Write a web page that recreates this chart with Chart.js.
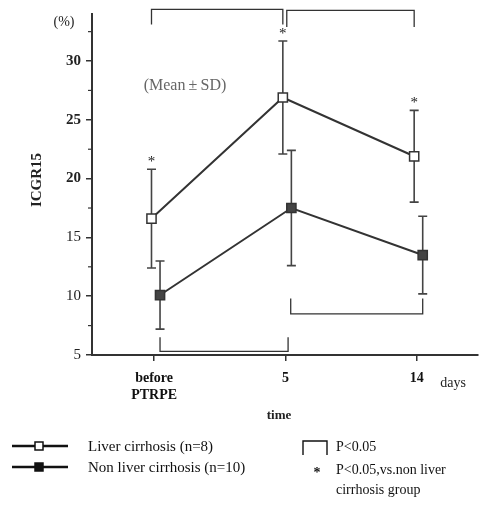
<!DOCTYPE html>
<html>
<head>
<meta charset="utf-8">
<script src="https://cdn.jsdelivr.net/npm/chart.js@4/dist/chart.umd.min.js"></script>
<style>
    html, body { margin: 0; padding: 0; background: #fff; }
    #wrap { width: 486px; height: 507px; }
</style>
</head>
<body>
<div id="wrap"><canvas id="icgr-chart"></canvas></div>
<script>
/*** 資料 ***/
const timeLabels = [['before', 'PTRPE'], '5', '14'];
const yTicks = [5, 10, 15, 20, 25, 30];
const yMinorTicks = [7.5, 12.5, 17.5, 22.5, 27.5, 32.5];
const cirrhosisMean = [16.6, 26.9, 21.9];
const cirrhosisSD = [4.2, 4.8, 3.9];
const nonCirrhosisMean = [10.1, 17.5, 13.5];
const nonCirrhosisSD = [2.9, 4.9, 3.3];
// [from, to, bar value, tip value]
const topBrackets = [[0, 1, 34.4, 33.1], [1, 2, 34.3, 32.9]];
const lowBrackets = [[0, 1, 5.3, 6.5], [1, 2, 8.5, 9.8]];

const INK = '#333';
const SERIF = '"Liberation Serif", "DejaVu Serif", serif';
const dodgeOpen = -0.02;
const dodgeFilled = 0.045;

const toPoints = (arr, dx) => arr.map((v, i) => ({ x: i + dx, y: v }));

/*** 誤差線、括號、圖例 ***/
const decorations = {
    id: 'decorations',
    beforeDatasetsDraw(chart) {
        const { ctx, scales: { x, y } } = chart;
        ctx.save();
        ctx.strokeStyle = '#444';
        ctx.lineWidth = 1.6;
        const bars = [[cirrhosisMean, cirrhosisSD, dodgeOpen], [nonCirrhosisMean, nonCirrhosisSD, dodgeFilled]];
        bars.forEach(([mean, sd, dx]) => {
            mean.forEach((m, i) => {
                const px = x.getPixelForValue(i + dx);
                const top = y.getPixelForValue(m + sd[i]);
                const bot = y.getPixelForValue(m - sd[i]);
                ctx.beginPath();
                ctx.moveTo(px, top); ctx.lineTo(px, bot);
                ctx.moveTo(px - 4.5, top); ctx.lineTo(px + 4.5, top);
                ctx.moveTo(px - 4.5, bot); ctx.lineTo(px + 4.5, bot);
                ctx.stroke();
            });
        });
        ctx.restore();
    },
    afterDraw(chart) {
        const { ctx, scales: { x, y } } = chart;
        ctx.save();
        ctx.strokeStyle = INK;
        ctx.fillStyle = '#222';

        // minor ticks
        ctx.lineWidth = 1.2;
        yMinorTicks.forEach(v => {
            const py = y.getPixelForValue(v);
            ctx.beginPath();
            ctx.moveTo(x.left - 4, py); ctx.lineTo(x.left, py);
            ctx.stroke();
        });

        // brackets
        ctx.lineWidth = 1.3;
        topBrackets.forEach(([a, b, bar, tip], k) => {
            const x1 = x.getPixelForValue(a + (k === 0 ? dodgeOpen : 0.01));
            const x2 = x.getPixelForValue(b + dodgeOpen);
            ctx.beginPath();
            ctx.moveTo(x1, y.getPixelForValue(tip));
            ctx.lineTo(x1, y.getPixelForValue(bar));
            ctx.lineTo(x2, y.getPixelForValue(bar));
            ctx.lineTo(x2, y.getPixelForValue(tip));
            ctx.stroke();
        });
        lowBrackets.forEach(([a, b, bar, tip], k) => {
            const x1 = x.getPixelForValue(a + (k === 0 ? dodgeFilled : 0.04));
            const x2 = x.getPixelForValue(b + (k === 0 ? 0.02 : dodgeFilled));
            ctx.beginPath();
            ctx.moveTo(x1, y.getPixelForValue(tip));
            ctx.lineTo(x1, y.getPixelForValue(bar));
            ctx.lineTo(x2, y.getPixelForValue(bar));
            ctx.lineTo(x2, y.getPixelForValue(tip));
            ctx.stroke();
        });

        // asterisks above liver cirrhosis error bars
        ctx.font = '15px ' + SERIF;
        ctx.textAlign = 'center';
        ctx.textBaseline = 'middle';
        cirrhosisMean.forEach((m, i) => {
            const px = x.getPixelForValue(i + dodgeOpen);
            const py = y.getPixelForValue(m + cirrhosisSD[i]);
            ctx.fillText('*', px, py - 7);
        });

        // texts
        ctx.font = '14px ' + SERIF;
        ctx.fillText('(%)', 64, 22);
        ctx.fillStyle = '#666';
        ctx.font = '16px ' + SERIF;
        ctx.fillText('(Mean\u2009\u00B1\u2009SD)', 185, 86);
        ctx.fillStyle = '#222';
        ctx.font = '14px ' + SERIF;
        ctx.fillText('days', 453, 383);
        ctx.font = 'bold 13px ' + SERIF;
        ctx.fillText('time', 279, 416);

        ctx.save();
        ctx.translate(37, 180);
        ctx.rotate(-Math.PI / 2);
        ctx.font = 'bold 15px ' + SERIF;
        ctx.fillText('ICGR15', 0, 0);
        ctx.restore();

        // legend
        ctx.lineWidth = 2.4;
        ctx.strokeStyle = '#111';
        [[446, false, 'Liver cirrhosis (n=8)'], [467, true, 'Non liver cirrhosis (n=10)']].forEach(([ly, filled, text]) => {
            ctx.beginPath();
            ctx.moveTo(12, ly); ctx.lineTo(68, ly);
            ctx.stroke();
            ctx.fillStyle = filled ? '#111' : '#fff';
            ctx.fillRect(35, ly - 4, 8, 8);
            ctx.lineWidth = 1.5;
            ctx.strokeRect(35, ly - 4, 8, 8);
            ctx.lineWidth = 2.4;
            ctx.fillStyle = '#111';
            ctx.font = '15px ' + SERIF;
            ctx.textAlign = 'left';
            ctx.fillText(text, 88, ly + 1);
        });

        ctx.lineWidth = 1.4;
        ctx.beginPath();
        ctx.moveTo(303, 455); ctx.lineTo(303, 441); ctx.lineTo(327, 441); ctx.lineTo(327, 455);
        ctx.stroke();
        ctx.font = '14px ' + SERIF;
        ctx.fillText('P<0.05', 336, 447);
        ctx.fillText('P<0.05,vs.non liver', 336, 470);
        ctx.fillText('cirrhosis group', 336, 490);
        ctx.textAlign = 'center';
        ctx.font = 'bold 14px ' + SERIF;
        ctx.fillText('*', 317, 473);
        ctx.restore();
    }
};

/*** 圖表 ***/
const ctx = document.getElementById('icgr-chart').getContext('2d');
const icgrChart = new Chart(ctx, {
    type: 'line',
    data: {
        datasets: [
            {
                label: 'Liver cirrhosis (n=8)',
                data: toPoints(cirrhosisMean, dodgeOpen),
                borderColor: INK,
                borderWidth: 2,
                pointStyle: 'rect',
                pointRadius: 6.5,
                pointBorderWidth: 1.5,
                pointBackgroundColor: '#fff',
                pointBorderColor: INK,
            },
            {
                label: 'Non liver cirrhosis (n=10)',
                data: toPoints(nonCirrhosisMean, dodgeFilled),
                borderColor: INK,
                borderWidth: 2,
                pointStyle: 'rect',
                pointRadius: 6.5,
                pointBorderWidth: 1.5,
                pointBackgroundColor: '#444',
                pointBorderColor: INK,
            }
        ]
    },
    options: {
        responsive: true,
        maintainAspectRatio: false,
        animation: false,
        layout: { padding: { top: 13, right: 3, left: 0, bottom: 0 } },
        plugins: {
            legend: { display: false },
            tooltip: { enabled: false },
        },
        scales: {
            x: {
                type: 'linear',
                min: -0.473,
                max: 2.466,
                afterBuildTicks: s => { s.ticks = timeLabels.map((_, i) => ({ value: i })); },
                afterFit: s => { s.height = 152; },
                ticks: {
                    callback: (v, i) => timeLabels[i],
                    color: '#111',
                    padding: 9,
                    maxRotation: 0,
                    font: { family: SERIF, size: 14, weight: 'bold', lineHeight: 1.2 },
                },
                grid: { drawOnChartArea: false, tickLength: 6, color: INK, lineWidth: 1.5 },
                border: { color: INK, width: 2 },
            },
            y: {
                min: 5,
                max: 34,
                afterBuildTicks: s => { s.ticks = yTicks.map(v => ({ value: v })); },
                afterFit: s => { s.width = 92; },
                ticks: {
                    color: '#222',
                    padding: 5,
                    font: c => ({ family: SERIF, size: 15, weight: c.tick && c.tick.value >= 20 ? 'bold' : 'normal' }),
                },
                grid: { drawOnChartArea: false, tickLength: 6, color: INK, lineWidth: 1.5 },
                border: { color: INK, width: 2 },
            }
        }
    },
    plugins: [decorations]
});
</script>
</body>
</html>
